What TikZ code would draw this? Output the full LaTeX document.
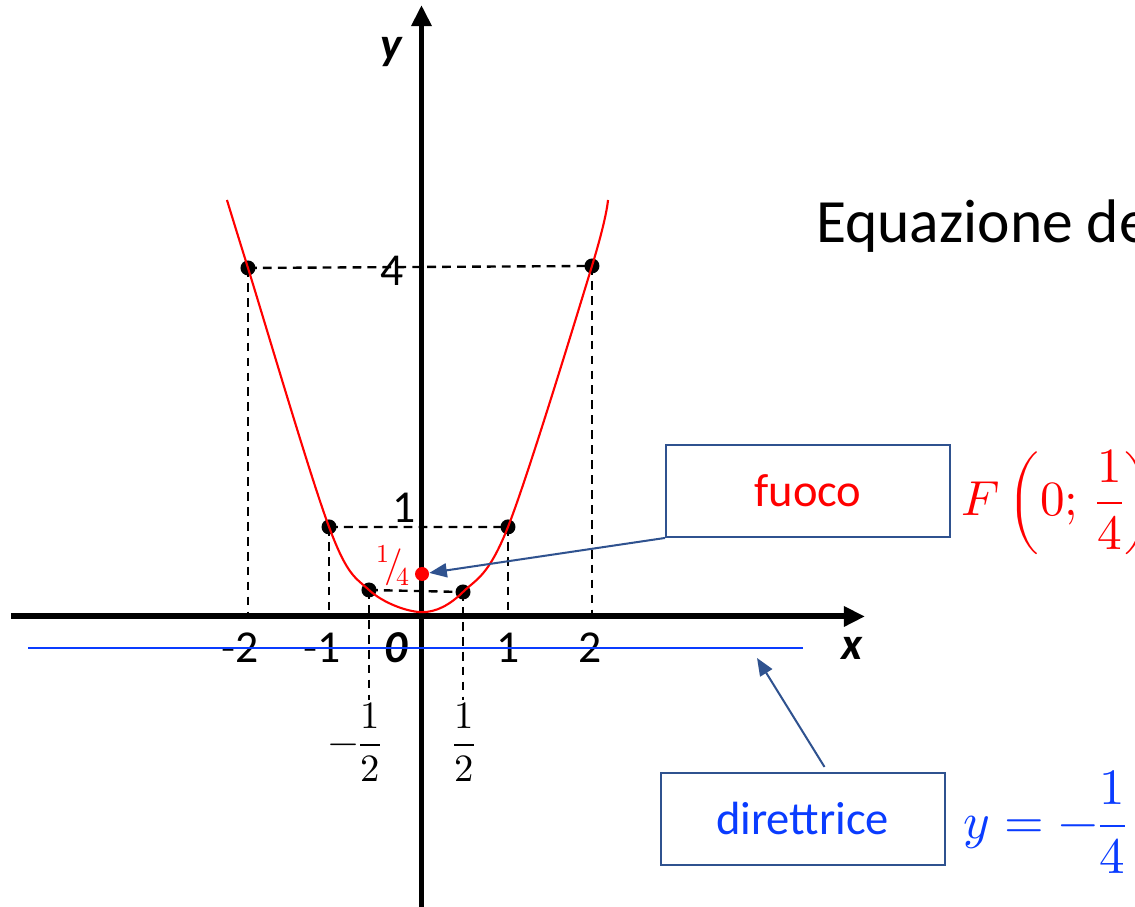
\documentclass[tikz,border=0pt]{standalone}
\usepackage{amsmath}
\usepackage{fontspec}
\usepackage{unicode-math}
\setmainfont{Carlito}
\setmathfont{Latin Modern Math}
\usetikzlibrary{arrows.meta,positioning,calc}
\definecolor{pbred}{HTML}{FF0000}
\definecolor{pbblue}{HTML}{0A3CFF}
\definecolor{pbedge}{HTML}{2F528F}

\begin{document}
\begin{tikzpicture}[x=1.73cm,y=1.73cm,
  bx/.style={rectangle,draw=pbedge,line width=1.15pt,minimum width=5.68cm,minimum height=1.84cm,font=\fontsize{26.5}{30}\selectfont},
  ar/.style={-{Triangle[length=10pt,width=8pt]},line width=1.15pt,draw=pbedge},
  ax/.style={line width=3.4pt,-{Triangle[length=12pt,width=11pt]}},
  dsh/.style={dash pattern=on 5pt off 3.5pt,line width=1.35pt},
  pnt/.style={circle,fill=black,inner sep=0pt,minimum size=0.3cm},
  num/.style={font=\fontsize{26}{30}\selectfont},
  var/.style={font=\fontsize{26}{30}\selectfont\bfseries\itshape},
  frc/.style={font=\fontsize{22}{26}\selectfont}]
  \useasboundingbox (-4.873,-3.358) rectangle (8.249,7.127);
  \clip (-4.873,-3.358) rectangle (8.249,7.127);
  \coordinate (a1) at (-2.006,4.029);
  \coordinate (a2) at (1.971,4.052);
  \coordinate (b1) at (-1.069,1.035);
  \coordinate (b2) at (1.0,1.035);
  \coordinate (c1) at (-0.607,0.306);
  \coordinate (c2) at (0.48,0.283);
  \draw[dsh] (a1) -- (a2) (b1) -- (b2) (c1) -- (c2);
  \foreach \p in {a1,a2,b1,b2} \draw[dsh] (\p) -- (\p |- 0,0);
  \foreach \p in {c1,c2} \draw[dsh] (\p) -- (\p |- 0,-0.965);
  \draw[ax] (-4.746,0) -- (5.127,0);
  \draw[ax] (0,-3.358) -- (0,7.069);
  \node[var] (ylab) at (-0.353,6.526) {y};
  \node[num] (n4) at (-0.341,3.994) {4};
  \node[num] (n1y) at (-0.202,1.254) {1};
  \node[num] (nm2) at (-2.098,-0.364) {-2};
  \node[num] (nm1) at (-1.15,-0.364) {-1};
  \node[var] (n0) at (-0.295,-0.364) {0};
  \node[num] (n1) at (1.0,-0.364) {1};
  \node[num] (n2) at (1.948,-0.364) {2};
  \node[var] (xlab) at (4.977,-0.364) {x};
  \node[frc] (mhalf) at (-0.769,-1.451) {$-\dfrac{1}{2}$};
  \node[frc] (phalf) at (0.491,-1.451) {$\dfrac{1}{2}$};
  \foreach \p in {a1,a2,b1,b2,c1,c2} \node[pnt] (p\p) at (\p) {};
  \draw[pbred,line width=1.2pt] plot[smooth,tension=0.55] coordinates {(-2.249,4.815) (a1) (b1) (c1) (0,0.05) (c2) (b2) (a2) (2.156,4.815)};
  \draw[pbblue,line width=1.35pt] (-4.549,-0.364) -- (4.41,-0.364);
  \node[circle,fill=pbred,inner sep=0pt,minimum size=0.28cm] (foc) at (0.006,0.491) {};
  \node[text=pbred,font=\fontsize{21}{25}\selectfont,inner sep=0pt] (qrt) at (-0.32,0.59) {$^{1}\!/\!_{4}$};
  \node[anchor=base west,font=\fontsize{35}{40}\selectfont] (eq) at (4.49,4.318) {Equazione de};
  \node[bx,text=pbred] (fuoco) at (4.468,1.451) {fuoco};
  \node[bx,text=pbblue] (dir) at (4.405,-2.341) {direttrice};
  \node[right=0pt of fuoco,xshift=0.08cm,yshift=-0.22cm,text=pbred,font=\fontsize{28}{32}\selectfont] (feq) {$F\left(0;\,\dfrac{1}{4}\right)$};
  \node[right=0pt of dir,xshift=0.24cm,yshift=-0.06cm,text=pbblue,font=\fontsize{29}{33}\selectfont] (deq) {$y=-\dfrac{1}{4}$};
  \coordinate (dtip) at (3.879,-0.48);
  \draw[ar] (fuoco.south west) -- (foc);
  \draw[ar] ([xshift=0.44cm,yshift=0.1cm]dir.north) -- (dtip);
\end{tikzpicture}
\end{document}
